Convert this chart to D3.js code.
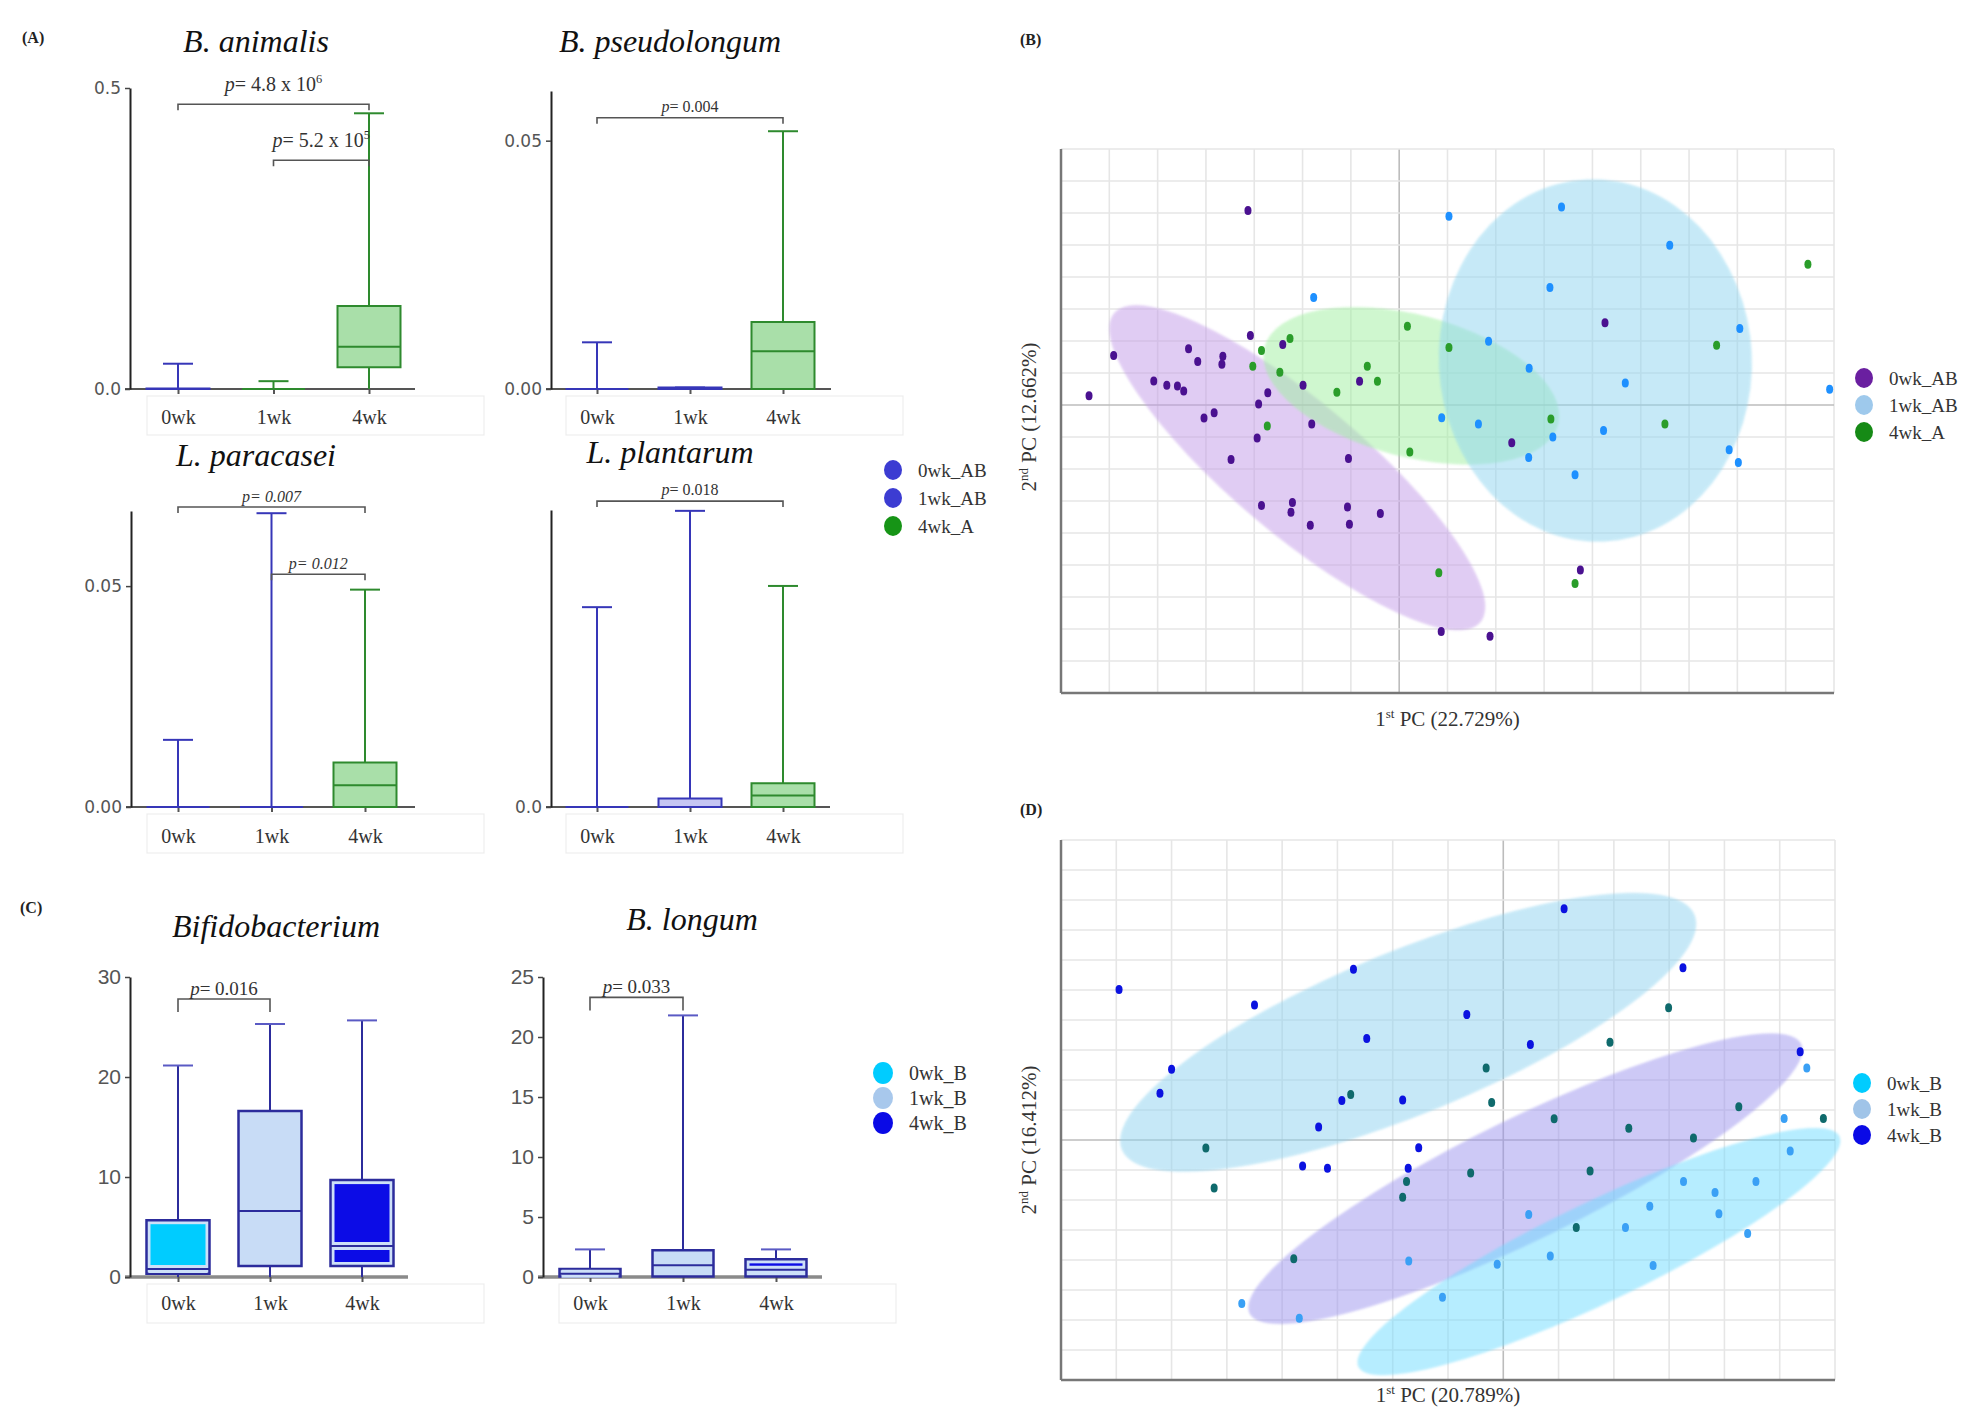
<!DOCTYPE html>
<html>
<head>
<meta charset="utf-8">
<script src="https://cdn.jsdelivr.net/npm/d3@7"></script>
<style>
  body { margin: 0; background: #fff; }
</style>
</head>
<body>
<svg id="fig" width="1975" height="1415"></svg>
<script>
// ---------- data ----------
const weeks = ['0wk', '1wk', '4wk'];

// box plots, one row per week: [min, q1, median, q3, max]
const animalisStats = [[0, 0, 0, 0.001, 0.042], [0, 0, 0, 0, 0.013], [0, 0.036, 0.070, 0.138, 0.458]];
const pseudolongumStats = [[0, 0, 0, 0, 0.0094], [0, 0, 0, 0.0003, 0.0003], [0, 0, 0.0076, 0.0135, 0.0519]];
const paracaseiStats = [[0, 0, 0, 0, 0.0152], [0, 0, 0, 0, 0.0665], [0, 0, 0.0049, 0.0101, 0.0492]];
const plantarumStats = [[0, 0, 0, 0, 0.0471], [0, 0, 0, 0.0020, 0.0698], [0, 0, 0.0027, 0.0056, 0.0521]];
const bifidoStats = [[0, 0.33, 0.80, 5.68, 21.15], [0, 1.10, 6.61, 16.6, 25.3], [0, 1.10, 3.10, 9.69, 25.66]];
const longumStats = [[0, 0.05, 0.28, 0.67, 2.3], [0, 0.05, 0.97, 2.22, 21.8], [0, 0.05, 0.6, 1.47, 2.3]];

// significance brackets
const animalisTests = [
  { from: '0wk', to: '4wk', y: 0.473, p: '4.8 x 10', sup: '6' },
  { from: '1wk', to: '4wk', y: 0.380, p: '5.2 x 10', sup: '5' }
];
const pseudolongumTests = [{ from: '0wk', to: '4wk', y: 0.0546, p: '0.004' }];
const paracaseiTests = [
  { from: '0wk', to: '4wk', y: 0.0679, p: '0.007' },
  { from: '1wk', to: '4wk', y: 0.0527, p: '0.012' }
];
const plantarumTests = [{ from: '0wk', to: '4wk', y: 0.0721, p: '0.018' }];
const bifidoTests = [{ from: '0wk', to: '1wk', y: 27.8, p: '0.016' }];
const longumTests = [{ from: '0wk', to: '1wk', y: 23.3, p: '0.033' }];

const legendA = ['0wk_AB', '1wk_AB', '4wk_A'];
const legendC = ['0wk_B', '1wk_B', '4wk_B'];

// PCA scores (B)
const pcaGroupsB = ['0wk_AB', '1wk_AB', '4wk_A'];
const pcaB0wk = [[-3.13, 6.08], [-6.42, 0.29], [-5.91, 1.55], [-5.08, 0.75], [-4.81, 0.62], [-4.59, 0.59],
  [-4.46, 0.44], [-4.36, 1.76], [-4.17, 1.36], [-3.65, 1.52], [-3.67, 1.27], [-4.04, -0.41], [-3.83, -0.24],
  [-3.48, -1.70], [-3.08, 2.17], [-2.91, 0.03], [-2.72, 0.38], [-2.94, -1.03], [-2.41, 1.89], [-1.81, -0.59],
  [-1.05, -1.67], [-2.85, -3.14], [-2.21, -3.05], [-2.24, -3.35], [-1.84, -3.76], [-1.07, -3.19], [-1.03, -3.73],
  [-0.39, -3.39], [-0.82, 0.74], [-1.99, 0.62], [4.26, 2.57], [2.33, -1.18], [3.75, -5.16], [0.87, -7.08], [1.88, -7.23]];
const pcaB1wk = [[1.03, 5.90], [3.36, 6.19], [5.60, 4.99], [-1.77, 3.36], [3.12, 3.67], [7.05, 2.39], [1.85, 1.99],
  [2.69, 1.15], [4.68, 0.69], [0.88, -0.40], [1.64, -0.59], [3.18, -1.00], [4.23, -0.80], [2.68, -1.64],
  [3.64, -2.18], [6.83, -1.40], [7.02, -1.80], [8.91, 0.49]];
const pcaB4wk = [[-2.26, 2.08], [-2.85, 1.70], [-3.03, 1.21], [-2.47, 1.02], [-2.73, -0.66], [-1.29, 0.40],
  [-0.66, 1.21], [-0.45, 0.74], [0.17, 2.46], [1.03, 1.80], [0.22, -1.47], [3.14, -0.44], [0.82, -5.24],
  [3.64, -5.58], [5.50, -0.59], [6.57, 1.87], [8.46, 4.40]];
// confidence ellipses: centre, major semi-axis as a PC vector, minor/major ratio
const ellipsesB = [
  { group: '0wk_AB', cx: -2.11, cy: -1.96, ux: 3.79, uy: -4.83, ratio: 0.275 },
  { group: '4wk_A', cx: 0.25, cy: 0.60, ux: 3.04, uy: -1.21, ratio: 0.467 },
  { group: '1wk_AB', cx: 4.06, cy: 1.39, ux: -0.18, uy: 5.66, ratio: 0.863 }
];

// PCA scores (D)
const pcaGroupsD = ['0wk_B', '1wk_B', '4wk_B'];
const pcaD0wk = [[5.49, 2.40], [5.08, 0.72], [5.19, -0.37], [3.26, -1.38], [4.57, -1.38], [3.83, -1.75],
  [2.65, -2.21], [3.90, -2.46], [2.21, -2.92], [4.42, -3.12], [0.46, -2.48], [0.85, -3.87], [-0.11, -4.14],
  [2.71, -4.18], [-1.71, -4.03], [-1.10, -5.24], [-4.73, -5.45], [-3.69, -5.94]];
const pcaD1wk = [[2.99, 4.41], [1.93, 3.26], [-0.31, 2.40], [-0.21, 1.25], [-2.76, 1.52], [-5.38, -0.27],
  [-5.23, -1.60], [0.92, 0.71], [2.27, 0.39], [3.44, 0.07], [4.26, 1.11], [5.79, 0.72], [-0.59, -1.10],
  [1.57, -1.03], [-1.75, -1.38], [-1.82, -1.91], [1.32, -2.92], [-3.79, -3.96]];
const pcaD4wk = [[1.10, 7.71], [-6.95, 5.02], [-2.71, 5.69], [-4.50, 4.50], [-0.66, 4.18], [-2.47, 3.38],
  [0.49, 3.18], [3.25, 5.74], [-6.00, 2.36], [-6.21, 1.56], [-2.92, 1.32], [-1.82, 1.33], [-3.34, 0.43],
  [-1.53, -0.26], [-3.63, -0.87], [-3.18, -0.94], [-1.72, -0.94], [5.37, 2.94]];
const ellipsesD = [
  { group: '4wk_B', cx: -1.72, cy: 3.59, ux: 5.18, uy: 3.91, ratio: 0.263 },
  { group: '1wk_B', cx: 0.40, cy: -1.29, ux: 4.99, uy: 4.49, ratio: 0.198 },
  { group: '0wk_B', cx: 1.73, cy: -3.72, ux: 4.35, uy: 3.84, ratio: 0.187 }
];

// ---------- styles ----------
const SERIF = '"Liberation Serif", "DejaVu Serif", serif';
const SANS = '"DejaVu Sans", sans-serif';
const blueA = '#3636b8', greenA = '#2e8a2e';
const navy = '#2c2c9c';

const svg = d3.select('#fig');
const defs = svg.append('defs');
defs.append('filter').attr('id', 'soft').append('feGaussianBlur').attr('stdDeviation', 1.3);

// ---------- box plot panels ----------
function drawBoxPanel(p) {
  const g = svg.append('g');
  const y = d3.scaleLinear().domain(p.domain).range([p.y0, p.yTop]);
  const x = d3.scalePoint().domain(weeks).range(p.catRange);
  const half = p.boxWidth / 2;

  // faint frame left around the category labels in the original figure
  g.append('rect')
    .attr('x', p.catRange[0] - 31).attr('y', p.y0 + 7)
    .attr('width', 337).attr('height', 39)
    .attr('fill', 'none').attr('stroke', '#eeeeee').attr('stroke-width', 1.2);

  // baseline runs a bit past the last group
  g.append('line')
    .attr('x1', p.axisX - 5).attr('x2', p.xEnd)
    .attr('y1', p.y0).attr('y2', p.y0)
    .attr('stroke', p.xAxisColor).attr('stroke-width', p.xAxisWidth);

  const xa = g.append('g')
    .attr('transform', `translate(0,${p.y0})`)
    .call(d3.axisBottom(x).tickSize(5).tickPadding(p.labelPad));
  xa.select('.domain').remove();
  xa.selectAll('.tick line').attr('stroke', '#555').attr('stroke-width', 2);
  xa.selectAll('text').attr('font-family', SERIF).attr('font-size', 20).attr('fill', '#333');

  const ya = g.append('g')
    .attr('transform', `translate(${p.axisX},0)`)
    .call(d3.axisLeft(y).tickValues(p.ticks).tickFormat(d3.format(p.fmt))
      .tickSize(5).tickSizeOuter(0).tickPadding(4));
  ya.select('.domain').attr('stroke', '#222').attr('stroke-width', 2);
  ya.selectAll('.tick line').attr('stroke', '#444').attr('stroke-width', 1.5);
  ya.selectAll('text').attr('font-family', p.tickFont).attr('font-size', p.tickFontSize).attr('fill', '#555');

  p.stats.forEach((s, i) => {
    const [mn, q1, med, q3, mx] = s;
    const cx = x(weeks[i]);
    const stroke = p.strokes[i];
    // whiskers and top cap
    g.append('line').attr('x1', cx).attr('x2', cx).attr('y1', y(q3)).attr('y2', y(mx))
      .attr('stroke', stroke).attr('stroke-width', 2);
    if (q1 > mn) {
      g.append('line').attr('x1', cx).attr('x2', cx).attr('y1', y(mn)).attr('y2', y(q1))
        .attr('stroke', stroke).attr('stroke-width', 2);
    }
    g.append('line').attr('x1', cx - p.capHalf).attr('x2', cx + p.capHalf)
      .attr('y1', y(mx)).attr('y2', y(mx))
      .attr('stroke', p.capColor || stroke).attr('stroke-width', 2);

    // box (path so a flat box still shows its edge)
    g.append('path')
      .attr('d', `M${cx - half},${y(q3)}H${cx + half}V${y(q1)}H${cx - half}Z`)
      .attr('fill', p.fills[i]).attr('stroke', stroke).attr('stroke-width', p.boxStroke);
    if (p.inner && p.inner[i]) {
      const h = y(q1) - y(q3) - 8;
      if (h > 0) {
        g.append('rect').attr('x', cx - half + 4).attr('y', y(q3) + 4)
          .attr('width', 2 * half - 8).attr('height', h).attr('fill', p.inner[i]);
      }
    }
    if (med > q1) {
      if (p.inner) {
        g.append('line').attr('x1', cx - half + 2).attr('x2', cx + half - 2)
          .attr('y1', y(med)).attr('y2', y(med))
          .attr('stroke', p.fills[i]).attr('stroke-width', 8);
      }
      g.append('line').attr('x1', cx - half).attr('x2', cx + half)
        .attr('y1', y(med)).attr('y2', y(med))
        .attr('stroke', stroke).attr('stroke-width', 2);
    }
  });

  // significance brackets
  p.tests.forEach(t => {
    const x1 = x(t.from), x2 = x(t.to), yy = y(t.y);
    g.append('path')
      .attr('d', `M${x1},${yy + p.bracketDrop}V${yy}H${x2}V${yy + p.bracketDrop}`)
      .attr('fill', 'none').attr('stroke', '#555').attr('stroke-width', 1.6);
    const txt = g.append('text')
      .attr('x', (x1 + x2) / 2 + (t.dx || 0))
      .attr('y', yy - p.pGap)
      .attr('text-anchor', 'middle')
      .attr('font-family', SERIF).attr('font-size', p.pSize).attr('fill', '#333');
    txt.append('tspan').attr('font-style', 'italic').text('p');
    txt.append('tspan').attr('font-style', p.pItalic ? 'italic' : 'normal').text('= ' + t.p);
    if (t.sup) {
      txt.append('tspan').attr('dy', -p.pSize * 0.42).attr('font-size', p.pSize * 0.62).text(t.sup);
    }
  });

  g.append('text')
    .attr('x', p.titleX).attr('y', p.titleY)
    .attr('text-anchor', 'middle')
    .attr('font-family', SERIF).attr('font-style', 'italic').attr('font-size', 32)
    .attr('fill', '#111')
    .text(p.title);
}

const panelA = {
  boxWidth: 63, capHalf: 15, boxStroke: 2, xAxisColor: '#555', xAxisWidth: 2,
  tickFont: SANS, tickFontSize: 17, bracketDrop: 6, pSize: 16, pGap: 6,
  strokes: [blueA, blueA, greenA], fills: ['#c6c6f3', '#c6c6f3', '#a9dfa9']
};

drawBoxPanel(Object.assign({}, panelA, {
  stats: animalisStats, tests: animalisTests, title: 'B. animalis',
  domain: [0, 0.5], ticks: [0, 0.5], fmt: '.1f',
  axisX: 130, y0: 389, yTop: 88, catRange: [178, 369], xEnd: 415,
  titleX: 256, titleY: 52, labelPad: 16, pSize: 20, pGap: 13,
  strokes: [blueA, greenA, greenA]
}));
drawBoxPanel(Object.assign({}, panelA, {
  stats: pseudolongumStats, tests: pseudolongumTests, title: 'B. pseudolongum',
  domain: [0, 0.06], ticks: [0, 0.05], fmt: '.2f',
  axisX: 551, y0: 389, yTop: 91, catRange: [597, 783], xEnd: 831,
  titleX: 670, titleY: 52, labelPad: 16
}));
drawBoxPanel(Object.assign({}, panelA, {
  stats: paracaseiStats, tests: paracaseiTests, title: 'L. paracasei',
  domain: [0, 0.067], ticks: [0, 0.05], fmt: '.2f',
  axisX: 131, y0: 807, yTop: 511, catRange: [178, 365], xEnd: 415,
  titleX: 256, titleY: 466, labelPad: 17, pItalic: true, pGap: 5
}));
drawBoxPanel(Object.assign({}, panelA, {
  stats: plantarumStats, tests: plantarumTests, title: 'L. plantarum',
  domain: [0, 0.07], ticks: [0], fmt: '.1f',
  axisX: 551, y0: 807, yTop: 510, catRange: [597, 783], xEnd: 830,
  titleX: 670, titleY: 463, labelPad: 17
}));

const panelC = {
  boxWidth: 63, capHalf: 15, boxStroke: 2.5, xAxisColor: '#8a8a8a', xAxisWidth: 3.5,
  tickFont: '"Liberation Sans", sans-serif', tickFontSize: 21, bracketDrop: 13, pSize: 19, pGap: 4,
  strokes: [navy, navy, navy], fills: ['#cde0f8', '#c8dcf6', '#cde0f8'],
  inner: ['#00ccff', null, '#0c0ce6'], capColor: '#5a5ac4', labelPad: 14
};
drawBoxPanel(Object.assign({}, panelC, {
  stats: bifidoStats, tests: bifidoTests, title: 'Bifidobacterium',
  domain: [0, 30], ticks: [0, 10, 20, 30], fmt: 'd',
  axisX: 130, y0: 1277, yTop: 977, catRange: [178, 362], xEnd: 408,
  titleX: 276, titleY: 937
}));
drawBoxPanel(Object.assign({}, panelC, {
  stats: longumStats, tests: longumTests, title: 'B. longum',
  domain: [0, 25], ticks: [0, 5, 10, 15, 20, 25], fmt: 'd', boxWidth: 61,
  axisX: 543, y0: 1277, yTop: 977, catRange: [590, 776], xEnd: 822,
  titleX: 692, titleY: 930
}));

// ---------- legends ----------
function drawLegend(labels, colors, x, y0, dy, r, size) {
  const g = svg.append('g');
  labels.forEach((lab, i) => {
    g.append('ellipse').attr('cx', x).attr('cy', y0 + i * dy)
      .attr('rx', r).attr('ry', r * 1.1).attr('fill', colors[i]);
    g.append('text').attr('x', x + r + 16).attr('y', y0 + i * dy + size * 0.35)
      .attr('font-family', SERIF).attr('font-size', size).attr('fill', '#333')
      .text(lab);
  });
}
drawLegend(legendA, ['#3c3cd2', '#3c3cd2', '#169416'], 893, 470, 28, 9, 19);
drawLegend(legendC, ['#00ccff', '#a8c8ec', '#0a0ae6'], 883, 1073, 25, 10, 20);

// ---------- PCA panels ----------
function drawPcaPanel(p) {
  const g = svg.append('g');
  const x = d3.scaleLinear().domain(p.xDomain).range([p.left, p.right]);
  const y = d3.scaleLinear().domain(p.yDomain).range([p.bottom, p.top]);

  g.selectAll('line.vg').data(d3.range(p.xDomain[0] + 1, p.xDomain[1] + 1)).join('line')
    .attr('x1', d => x(d)).attr('x2', d => x(d)).attr('y1', p.top).attr('y2', p.bottom)
    .attr('stroke', d => d === 0 ? '#bcbcbc' : '#e6e6e6').attr('stroke-width', 1.6);
  g.selectAll('line.hg').data(d3.range(p.yDomain[0] + 1, p.yDomain[1] + 1)).join('line')
    .attr('x1', p.left).attr('x2', p.right).attr('y1', d => y(d)).attr('y2', d => y(d))
    .attr('stroke', d => d === 0 ? '#bcbcbc' : '#e6e6e6').attr('stroke-width', 1.6);

  p.ellipses.forEach(e => {
    const px = x(e.cx), py = y(e.cy);
    const vx = x(e.cx + e.ux) - px, vy = y(e.cy + e.uy) - py;
    const a = Math.hypot(vx, vy);
    const ang = Math.atan2(vy, vx) * 180 / Math.PI;
    g.append('ellipse')
      .attr('rx', a).attr('ry', a * e.ratio)
      .attr('transform', `translate(${px},${py}) rotate(${ang})`)
      .attr('fill', p.ellipseColors[e.group]).attr('opacity', 0.5)
      .attr('filter', 'url(#soft)');
  });

  // axes
  g.append('line').attr('x1', p.left).attr('x2', p.left).attr('y1', p.top).attr('y2', p.bottom)
    .attr('stroke', '#777').attr('stroke-width', 2.5);
  g.append('line').attr('x1', p.left).attr('x2', p.right).attr('y1', p.bottom).attr('y2', p.bottom)
    .attr('stroke', '#777').attr('stroke-width', 2.5);

  p.series.forEach((pts, i) => {
    g.selectAll(null).data(pts).join('ellipse')
      .attr('cx', d => x(d[0])).attr('cy', d => y(d[1]))
      .attr('rx', 3.5).attr('ry', 4.5)
      .attr('fill', p.pointColors[i]);
  });

  const xt = g.append('text')
    .attr('x', (p.left + p.right) / 2).attr('y', p.bottom + p.xTitleGap)
    .attr('text-anchor', 'middle')
    .attr('font-family', SERIF).attr('font-size', 21).attr('fill', '#333');
  xt.append('tspan').text('1');
  xt.append('tspan').attr('dy', -8).attr('font-size', 13).text('st');
  xt.append('tspan').attr('dy', 8).text(' PC (' + p.xLabel + ')');

  const yt = g.append('text')
    .attr('transform', `translate(${p.left - 25},${(p.top + p.bottom) / 2 - p.yTitleShift}) rotate(-90)`)
    .attr('text-anchor', 'middle')
    .attr('font-family', SERIF).attr('font-size', 21).attr('fill', '#333');
  yt.append('tspan').text('2');
  yt.append('tspan').attr('dy', -8).attr('font-size', 13).text('nd');
  yt.append('tspan').attr('dy', 8).text(' PC (' + p.yLabel + ')');
}

drawPcaPanel({
  left: 1061, right: 1834, top: 149, bottom: 693,
  xDomain: [-7, 9], yDomain: [-9, 8],
  series: [pcaB0wk, pcaB4wk, pcaB1wk],
  pointColors: ['#4a1190', '#2a9d2a', '#1e90ff'],
  ellipses: ellipsesB,
  ellipseColors: { '0wk_AB': '#c39be8', '4wk_A': '#a0f0a0', '1wk_AB': '#8fd5f0' },
  xLabel: '22.729%', yLabel: '12.662%', yTitleShift: 4, xTitleGap: 33
});
drawPcaPanel({
  left: 1061, right: 1835, top: 840, bottom: 1380,
  xDomain: [-8, 6], yDomain: [-8, 10],
  series: [pcaD1wk, pcaD0wk, pcaD4wk],
  pointColors: ['#0f6a6c', '#3aa0f5', '#0b12e0'],
  ellipses: ellipsesD,
  ellipseColors: { '4wk_B': '#8fd3f0', '1wk_B': '#9c94ee', '0wk_B': '#6fdcff' },
  xLabel: '20.789%', yLabel: '16.412%', yTitleShift: -30, xTitleGap: 22
});

drawLegend(pcaGroupsB, ['#6a1fa0', '#9ec9ec', '#168a16'], 1864, 378, 27, 9, 19);
drawLegend(pcaGroupsD, ['#00ccff', '#a0c4e8', '#0a0ae6'], 1862, 1083, 26, 9, 19);

// ---------- panel letters ----------
[['(A)', 22, 43], ['(B)', 1020, 45], ['(C)', 20, 913], ['(D)', 1020, 815]].forEach(([t, lx, ly]) => {
  svg.append('text').attr('x', lx).attr('y', ly)
    .attr('font-family', SERIF).attr('font-weight', 'bold').attr('font-size', 16)
    .attr('fill', '#222').text(t);
});
</script>
</body>
</html>
